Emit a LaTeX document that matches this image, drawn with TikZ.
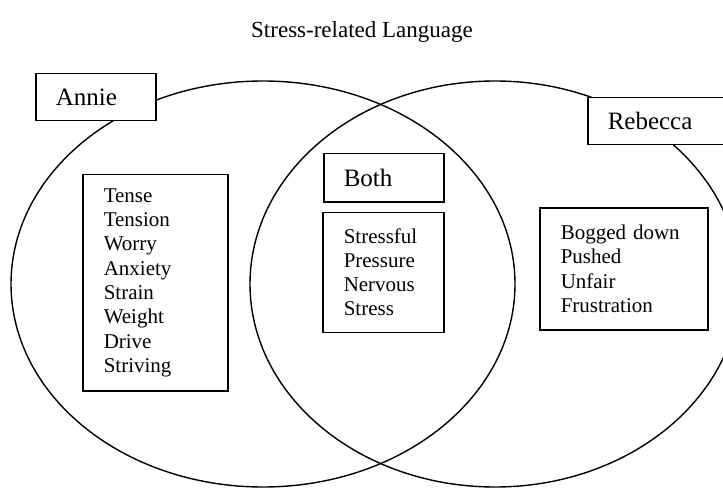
\documentclass[tikz,border=0pt]{standalone}
\usepackage{fontspec}
\setmainfont{Liberation Serif}
\usetikzlibrary{shapes.geometric, positioning}
\tikzstyle{person} = [ellipse, line width=1.4pt, draw=black, inner sep=0pt]
\tikzstyle{tag} = [rectangle, line width=1.5pt, draw=black, fill=white, align=left, inner xsep=20pt, minimum height=47pt, font=\fontsize{25}{30}\selectfont]
\tikzstyle{words} = [rectangle, line width=1.5pt, draw=black, fill=white, align=left, inner xsep=21pt, font=\fontsize{21}{24.3}\selectfont]

\begin{document}
\begin{tikzpicture}[x=1pt, y=-1pt]
		\useasboundingbox (0,0) rectangle (723,492);
		\node (Title) at (362,32) {\fontsize{23}{28}\selectfont Stress-related Language};
		\node (AnnieSet) [person, minimum width=504pt, minimum height=406pt] at (263,284) {};
		\node (RebeccaSet) [person, minimum width=490pt, minimum height=406pt] at (495,284) {};
		\node (Annie) [tag, text width=80pt, anchor=north west] at (35,73) {Annie};
		\node (Rebecca) [tag, text width=98pt, anchor=north west] at (587,97) {Rebecca};
		\node (Both) [tag, text width=80pt, minimum height=48pt, anchor=north west] at (323,153) {Both};
		\node (AnnieWords) [words, text width=103pt, minimum height=216pt, anchor=north west] at (82,174) {Tense\\Tension\\Worry\\Anxiety\\Strain\\Weight\\Drive\\Striving};
		\node (BothWords) [words, text width=79pt, minimum height=120pt, below right=9pt and -1pt of Both.south west] {Stressful\\Pressure\\Nervous\\Stress};
		\node (RebeccaWords) [words, text width=126pt, minimum height=122pt, anchor=north west] at (539,207) {Bogged down\\Pushed\\Unfair\\Frustration};
\end{tikzpicture}
\end{document}
